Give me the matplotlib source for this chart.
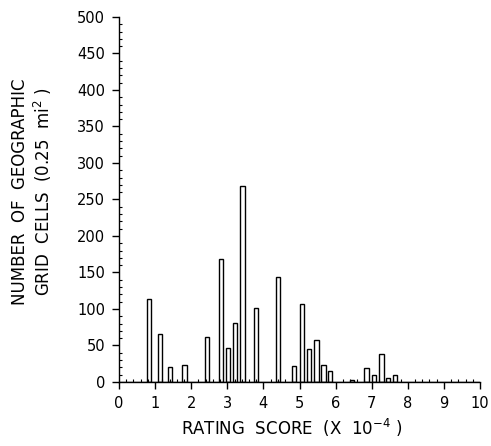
import matplotlib
matplotlib.use('Agg')
import matplotlib.pyplot as plt
from matplotlib.ticker import MultipleLocator

# rating score bins (x 10^-4) and counts of grid cells
score = [0.83, 1.14, 1.41, 1.81, 2.43, 2.82, 3.02, 3.22, 3.42, 3.80, 4.40,
         4.85, 5.06, 5.26, 5.47, 5.66, 5.85, 6.45, 6.86, 7.07, 7.27, 7.45, 7.65]
cells = [114, 66, 20, 23, 61, 168, 47, 81, 269, 101, 144,
         22, 107, 45, 57, 23, 15, 3, 19, 9, 38, 5, 10]

plt.rcParams['font.family'] = 'DejaVu Sans'

fig = plt.figure(figsize=(4.91, 4.46), dpi=100)
ax = fig.add_axes([0.2424, 0.1435, 0.7352, 0.8184])

ax.bar(score, cells, width=0.12, facecolor='white', edgecolor='black', linewidth=1.0)
ax.plot([0, 10], [0, 0], color='black', linewidth=1.0)

ax.set_xlim(0, 10)
ax.set_ylim(0, 500)
ax.spines['top'].set_visible(False)
ax.spines['right'].set_visible(False)
ax.spines['left'].set_linewidth(1.0)
ax.spines['bottom'].set_linewidth(1.0)

ax.xaxis.set_major_locator(MultipleLocator(1))
ax.xaxis.set_minor_locator(MultipleLocator(0.2))
ax.yaxis.set_major_locator(MultipleLocator(50))
ax.yaxis.set_minor_locator(MultipleLocator(10))
ax.tick_params(which='major', direction='out', length=5, width=1, labelsize=10.5, pad=5)
ax.tick_params(which='minor', direction='in', length=2.5, width=0.8)

fig.text(0.041, 0.57, 'NUMBER  OF  GEOGRAPHIC', rotation=90, ha='center', va='center', fontsize=12)
fig.text(0.088, 0.57, 'GRID  CELLS  (0.25  mi$^{2}$ )', rotation=90, ha='center', va='center', fontsize=12)
fig.text(0.595, 0.04, 'RATING  SCORE  (X  10$^{-4}$ )', ha='center', va='center', fontsize=12)

fig.savefig('out.png', dpi=100)
